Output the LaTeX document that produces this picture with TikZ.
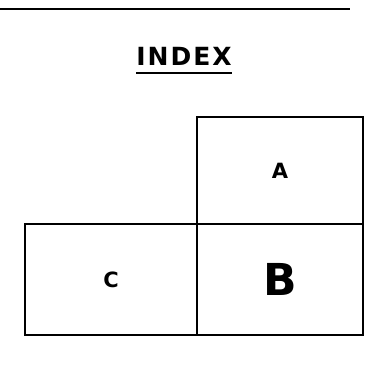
\documentclass[tikz,border=0pt]{standalone}
\usepackage{fontspec}
\newfontfamily\lettering[LetterSpace=8]{DejaVu Sans}
\usetikzlibrary{positioning}

\begin{document}
\begin{tikzpicture}[
  x=1pt, y=-1pt,
  node distance=0pt,
  sheet/.style={draw, line width=2pt, outer sep=0pt, inner sep=0pt, font=\lettering\bfseries\fontsize{21}{21}\selectfont},
  heading/.style={inner xsep=0pt, inner ysep=7pt, font=\lettering\bfseries\fontsize{25}{25}\selectfont},
  rule/.style={line width=2pt}
]
\useasboundingbox (0,0) rectangle (379,370);

\coordinate (ruleL) at (0,9);
\coordinate (ruleR) at (350,9);
\draw[rule] (ruleL) -- (ruleR);

\node[heading] (index) at (184,56.5) {INDEX};
\draw[rule] (index.south west) -- (index.south east);

\node[sheet, minimum width=166, minimum height=111, font=\lettering\bfseries\fontsize{44}{44}\selectfont] (b) at (280,279.5) {B};
\node[sheet, minimum width=166, minimum height=107, above=of b] (a) {A};
\node[sheet, minimum width=172, minimum height=111, left=of b] (c) {C};
\end{tikzpicture}
\end{document}
